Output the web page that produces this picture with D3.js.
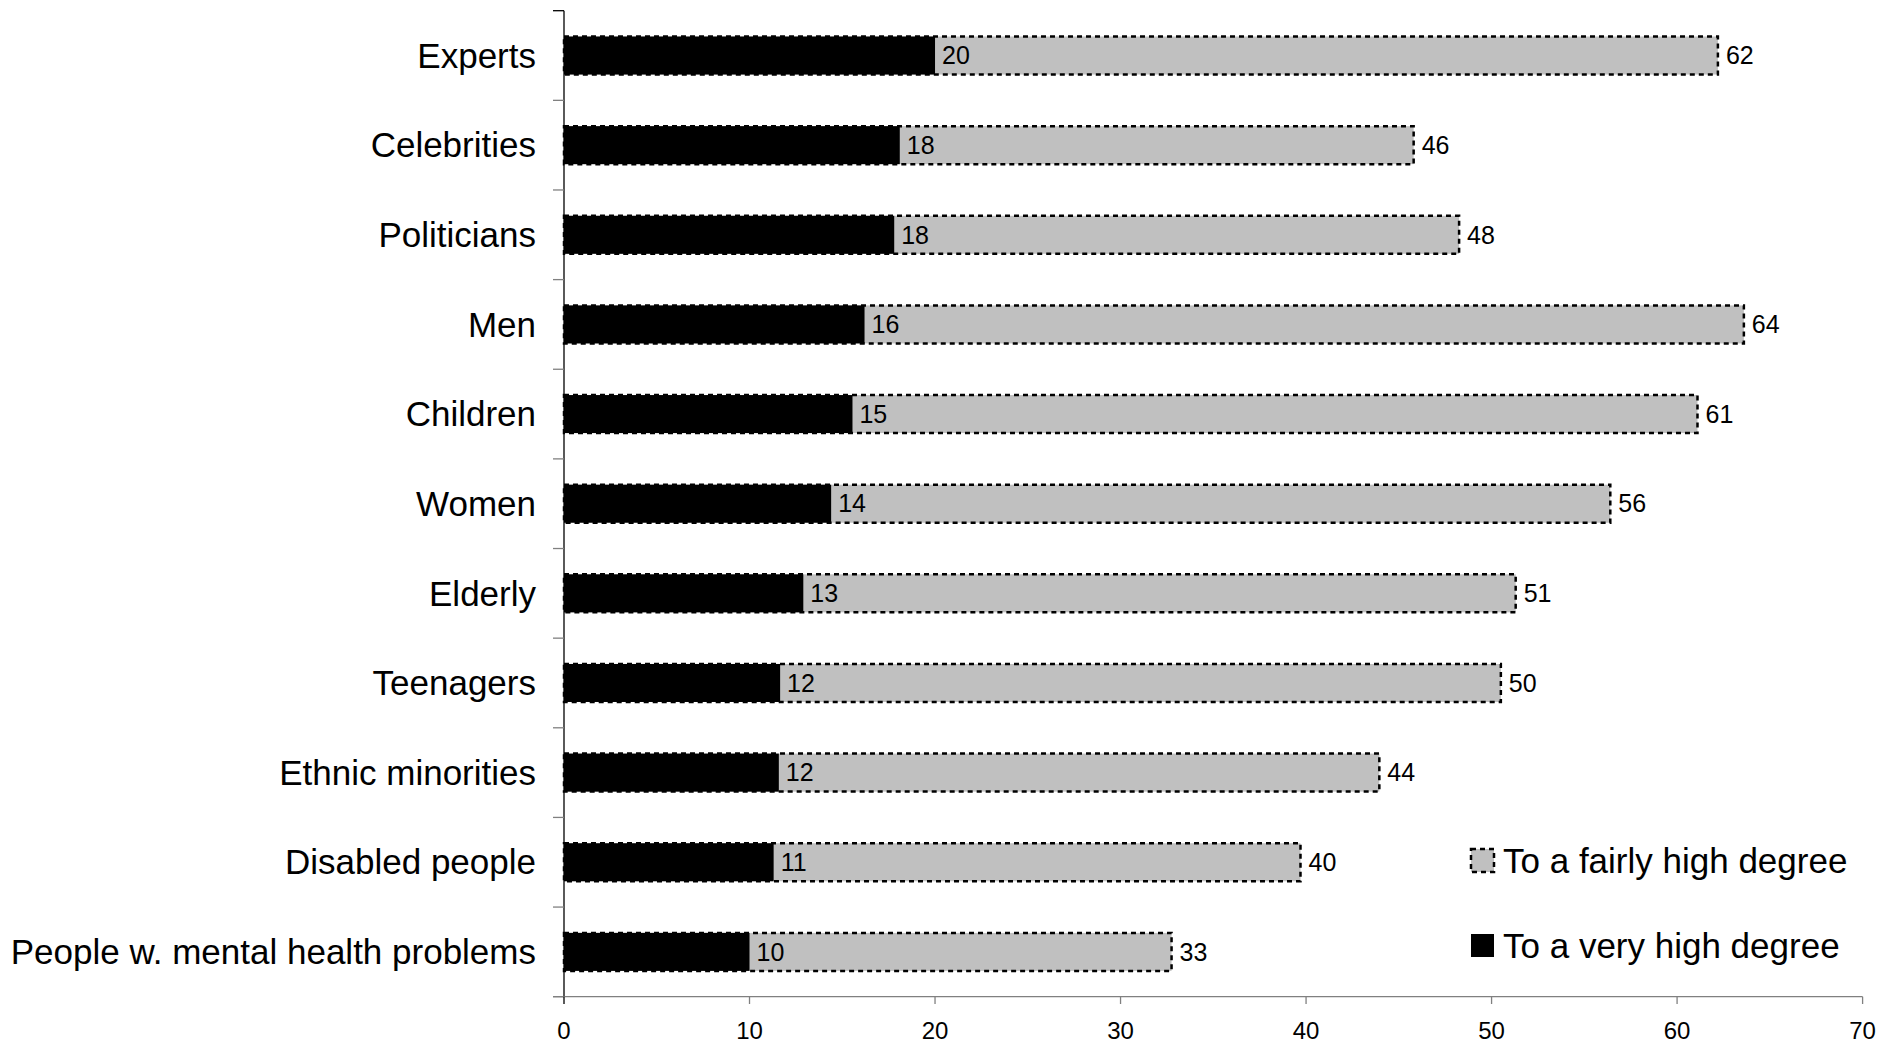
<!DOCTYPE html>
<html>
<head>
<meta charset="utf-8">
<script src="https://cdn.jsdelivr.net/npm/d3@7"></script>
<style>
  html, body { margin: 0; padding: 0; background: #fff; }
  svg { display: block; font-family: "Liberation Sans", Arial, sans-serif; }
</style>
</head>
<body>
<svg id="chart" width="1894" height="1044"></svg>
<script>
const categories = ["Experts", "Celebrities", "Politicians", "Men", "Children", "Women",
  "Elderly", "Teenagers", "Ethnic minorities", "Disabled people", "People w. mental health problems"];
// bar lengths
const veryHigh = [20.0, 18.1, 17.8, 16.2, 15.55, 14.4, 12.9, 11.65, 11.58, 11.3, 10.0];
const fairlyHigh = [62.2, 45.8, 48.25, 63.6, 61.1, 56.4, 51.3, 50.5, 43.95, 39.7, 32.75];
// data labels as printed
const veryHighLabels = [20, 18, 18, 16, 15, 14, 13, 12, 12, 11, 10];
const fairlyHighLabels = [62, 46, 48, 64, 61, 56, 51, 50, 44, 40, 33];
const xTicks = [0, 10, 20, 30, 40, 50, 60, 70];
const seriesNames = ["To a fairly high degree", "To a very high degree"];

const svg = d3.select("#chart");
const x = d3.scaleLinear().domain([0, 70]).range([564, 1862.6]);
const y = d3.scaleBand().domain(categories).range([10.7, 996.7]).padding(0);
const barFrac = 0.424;
const bh = y.bandwidth() * barFrac;
const barY = c => y(c) + (y.bandwidth() - bh) / 2;

const rows = categories.map((c, i) => ({c, v: veryHigh[i], f: fairlyHigh[i], vl: veryHighLabels[i], fl: fairlyHighLabels[i]}));

// grey bars (fairly high), dashed border
svg.append("g").selectAll("rect").data(rows).join("rect")
  .attr("x", x(0)).attr("y", d => barY(d.c))
  .attr("width", d => x(d.f) - x(0)).attr("height", bh)
  .attr("fill", "#c0c0c0").attr("stroke", "#000").attr("stroke-width", 2.5)
  .attr("stroke-dasharray", "5,4");

// black bars (very high)
svg.append("g").selectAll("rect").data(rows).join("rect")
  .attr("x", x(0)).attr("y", d => barY(d.c))
  .attr("width", d => x(d.v) - x(0)).attr("height", bh)
  .attr("fill", "#000");

// data labels
svg.append("g").selectAll("text").data(rows).join("text")
  .attr("x", d => x(d.v) + 7).attr("y", d => y(d.c) + y.bandwidth() / 2).attr("dy", "0.35em")
  .attr("font-size", 25).attr("fill", "#000").text(d => d.vl);
svg.append("g").selectAll("text").data(rows).join("text")
  .attr("x", d => x(d.f) + 8).attr("y", d => y(d.c) + y.bandwidth() / 2).attr("dy", "0.35em")
  .attr("font-size", 25).attr("fill", "#000").text(d => d.fl);

// y axis
const yAxisG = svg.append("g");
yAxisG.append("line").attr("x1", x(0)).attr("x2", x(0)).attr("y1", 10.7).attr("y2", 996.7)
  .attr("stroke", "#000").attr("stroke-width", 1.3);
const bounds = categories.map(c => y(c)).concat([996.7]);
yAxisG.selectAll("line.tick").data(bounds).join("line").attr("class", "tick")
  .attr("x1", x(0) - 11).attr("x2", x(0)).attr("y1", d => d).attr("y2", d => d)
  .attr("stroke", (d, i) => i === 0 ? "#000" : "#808080").attr("stroke-width", 1.3);
yAxisG.selectAll("text").data(categories).join("text")
  .attr("x", 536).attr("y", d => y(d) + y.bandwidth() / 2).attr("dy", "0.35em")
  .attr("text-anchor", "end").attr("font-size", 35).attr("fill", "#000").text(d => d);

// x axis
const xAxisG = svg.append("g");
xAxisG.append("line").attr("x1", x(0) - 11).attr("x2", x(70)).attr("y1", 996.7).attr("y2", 996.7)
  .attr("stroke", "#808080").attr("stroke-width", 1.3);
xAxisG.selectAll("line.tick").data(xTicks).join("line").attr("class", "tick")
  .attr("x1", d => x(d)).attr("x2", d => x(d)).attr("y1", 996.7).attr("y2", 1004)
  .attr("stroke", (d, i) => i === 0 ? "#000" : "#808080").attr("stroke-width", 1.3);
xAxisG.selectAll("text").data(xTicks).join("text")
  .attr("x", d => x(d)).attr("y", 1038.5).attr("text-anchor", "middle")
  .attr("font-size", 24).attr("fill", "#000").text(d => d);

// legend
const legend = svg.append("g");
const legendRows = [
  {name: seriesNames[0], fill: "#c0c0c0", dashed: true, y: 849},
  {name: seriesNames[1], fill: "#000", dashed: false, y: 934}
];
legendRows.forEach(r => {
  const rect = legend.append("rect").attr("x", 1471).attr("y", r.y).attr("width", 23).attr("height", 23)
    .attr("fill", r.fill);
  if (r.dashed) rect.attr("stroke", "#000").attr("stroke-width", 2.5).attr("stroke-dasharray", "5,4");
  legend.append("text").attr("x", 1503).attr("y", r.y + 24).attr("font-size", 35)
    .attr("fill", "#000").text(r.name);
});
</script>
</body>
</html>
